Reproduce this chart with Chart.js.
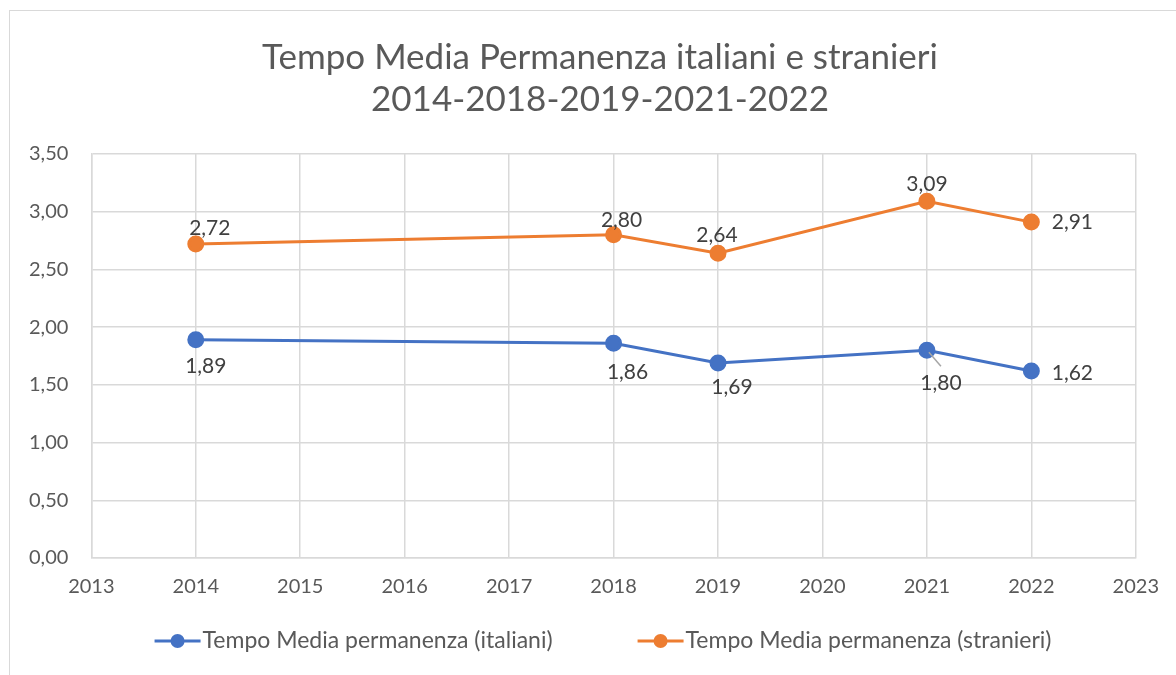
<!DOCTYPE html>
<html>
<head>
<meta charset="utf-8">
<script src="https://cdn.jsdelivr.net/npm/chart.js@4/dist/chart.umd.min.js"></script>
<style>
  html, body { margin: 0; padding: 0; background: #fff; }
  #wrap { width: 1176px; height: 675px; position: relative; }
</style>
</head>
<body>
<div id="wrap"><canvas id="myChart" width="1176" height="675"></canvas></div>
<script>
const years = [2014, 2018, 2019, 2021, 2022];
const italiani = [1.89, 1.86, 1.69, 1.80, 1.62];
const stranieri = [2.72, 2.80, 2.64, 3.09, 2.91];
const seriesNames = ["Tempo Media permanenza (italiani)", "Tempo Media permanenza (stranieri)"];
const titleLines = ["Tempo Media Permanenza italiani e stranieri", "2014-2018-2019-2021-2022"];

const blue = "#4472C4";
const orange = "#ED7D31";
const textColor = "#595959";
const fontName = "Lato, 'Noto Sans', sans-serif";

// label offsets (pixels from the point), one per point
const labelOffsets = [
  [[10, 26], [14, 29], [14, 24], [14, 33], [41, 2]],
  [[14, -16], [8, -15], [-1, -18], [0, -17], [41, 0]]
];

function fmt(v) {
  return v.toFixed(2).replace(".", ",");
}

// white background, light frame and the two-line title
const frame = {
  id: "frame",
  beforeDraw(chart) {
    const ctx = chart.ctx;
    ctx.save();
    ctx.fillStyle = "#fff";
    ctx.fillRect(0, 0, chart.width, chart.height);
    ctx.strokeStyle = "#d9d9d9";
    ctx.lineWidth = 1;
    ctx.strokeRect(9.5, 10.5, chart.width + 10, chart.height + 10);
    ctx.fillStyle = textColor;
    ctx.font = "35px " + fontName;
    ctx.textAlign = "center";
    ctx.textBaseline = "middle";
    ctx.fillText(titleLines[0], 600, 58);
    ctx.fillText(titleLines[1], 600, 100);
    ctx.restore();
  }
};

const valueLabels = {
  id: "valueLabels",
  afterDatasetsDraw(chart) {
    const ctx = chart.ctx;
    ctx.save();
    ctx.font = "21px " + fontName;
    ctx.fillStyle = "#404040";
    ctx.textAlign = "center";
    ctx.textBaseline = "middle";
    chart.data.datasets.forEach((ds, i) => {
      chart.getDatasetMeta(i).data.forEach((pt, j) => {
        const off = labelOffsets[i][j];
        if (i === 0 && j === 3) {
          ctx.strokeStyle = "#a6a6a6";
          ctx.lineWidth = 1.5;
          ctx.beginPath();
          ctx.moveTo(pt.x + 2, pt.y + 2);
          ctx.lineTo(pt.x + 14, pt.y + 16);
          ctx.stroke();
        }
        ctx.fillText(fmt(ds.data[j].y), pt.x + off[0], pt.y + off[1]);
      });
    });
    ctx.restore();
  }
};

// legend drawn by hand: line + dot marker, then the text
const bottomLegend = {
  id: "bottomLegend",
  afterDraw(chart) {
    const ctx = chart.ctx;
    const markW = 46, gap = 85;
    ctx.save();
    ctx.font = "23px " + fontName;
    const items = chart.data.datasets.map((ds) => ({
      text: ds.label,
      color: ds.borderColor,
      w: ctx.measureText(ds.label).width
    }));
    const total = items.reduce((s, it) => s + markW + 2 + it.w, 0) + gap * (items.length - 1);
    let x = 603 - total / 2;
    const y = 641;
    items.forEach((it) => {
      ctx.strokeStyle = it.color;
      ctx.lineWidth = 3;
      ctx.beginPath();
      ctx.moveTo(x, y);
      ctx.lineTo(x + markW, y);
      ctx.stroke();
      ctx.fillStyle = it.color;
      ctx.beginPath();
      ctx.arc(x + markW / 2, y, 7, 0, Math.PI * 2);
      ctx.fill();
      ctx.fillStyle = textColor;
      ctx.textAlign = "left";
      ctx.textBaseline = "middle";
      ctx.fillText(it.text, x + markW + 2, y);
      x += markW + 2 + it.w + gap;
    });
    ctx.restore();
  }
};

new Chart(document.getElementById("myChart").getContext("2d"), {
  type: "line",
  data: {
    datasets: [
      {
        label: seriesNames[0],
        data: years.map((y, i) => ({ x: y, y: italiani[i] })),
        borderColor: blue,
        backgroundColor: blue,
        borderWidth: 3,
        pointRadius: 7,
        pointHoverRadius: 7
      },
      {
        label: seriesNames[1],
        data: years.map((y, i) => ({ x: y, y: stranieri[i] })),
        borderColor: orange,
        backgroundColor: orange,
        borderWidth: 3,
        pointRadius: 7,
        pointHoverRadius: 7
      }
    ]
  },
  options: {
    responsive: false,
    animation: false,
    layout: { padding: { left: 6, right: 38, top: 154, bottom: 59 } },
    scales: {
      x: {
        type: "linear",
        min: 2013,
        max: 2023,
        ticks: {
          stepSize: 1,
          color: textColor,
          font: { size: 20, family: fontName },
          padding: 17,
          callback: (v) => String(v)
        },
        grid: { color: "#d9d9d9", lineWidth: 1.5, drawTicks: false },
        border: { color: "#d9d9d9", width: 1.5 }
      },
      y: {
        min: 0,
        max: 3.5,
        ticks: {
          stepSize: 0.5,
          color: textColor,
          font: { size: 20, family: fontName },
          padding: 23,
          callback: (v) => fmt(v)
        },
        grid: { color: "#d9d9d9", lineWidth: 1.5, drawTicks: false },
        border: { color: "#d9d9d9", width: 1.5 }
      }
    },
    plugins: {
      title: { display: false },
      legend: { display: false },
      tooltip: { enabled: false }
    }
  },
  plugins: [frame, valueLabels, bottomLegend]
});
</script>
</body>
</html>
